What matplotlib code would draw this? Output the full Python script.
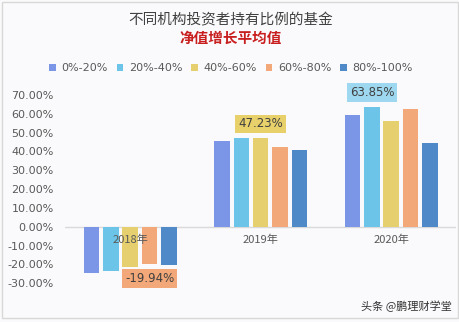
import matplotlib.pyplot as plt
from matplotlib.patches import Patch, Rectangle
import numpy as np

# chart data
years = ['2018年', '2019年', '2020年']
series = ['0%-20%', '20%-40%', '40%-60%', '60%-80%', '80%-100%']
values = [
    [-24.8, 45.6, 59.4],   # 0%-20%
    [-23.4, 47.0, 63.85],  # 20%-40%
    [-21.3, 47.23, 56.4],  # 40%-60%
    [-19.94, 42.2, 62.8],  # 60%-80%
    [-20.5, 40.9, 44.5],   # 80%-100%
]
yticks = [-30, -20, -10, 0, 10, 20, 30, 40, 50, 60, 70]
# (series index, year index, label)
callouts = [(3, 0, '-19.94%'), (2, 1, '47.23%'), (1, 2, '63.85%')]

colors = ['#7B96E6', '#6CC5E8', '#E6CF6E', '#F2A878', '#4F89C8']
callout_fill = ['#7B96E6', '#9ED8F0', '#E8D06A', '#F2A878', '#4F89C8']

plt.rcParams['font.family'] = ['DejaVu Sans', 'Noto Sans CJK SC']
cjk = ['Noto Sans CJK SC', 'DejaVu Sans']

fig = plt.figure(figsize=(4.6, 3.22), dpi=100, facecolor='#FAFAFC')
fig.patches.append(Rectangle((0.004, 0.012), 0.992, 0.982, transform=fig.transFigure,
                             fill=False, edgecolor='#D8D8D8', linewidth=1))

ax = fig.add_axes([0.1413, 0.0739, 0.851, 0.6544])
ax.set_facecolor('none')

x = np.arange(len(years))
step = 0.148
width = 0.119
for i, (name, vals) in enumerate(zip(series, values)):
    ax.bar(x + (i - 2) * step, vals, width, color=colors[i], zorder=2)

ax.axhline(0, color='#D9D9D9', linewidth=1, zorder=1)

for s, yr, label in callouts:
    v = values[s][yr]
    off = 10 if v > 0 else -10
    ax.annotate(label, (x[yr] + (s - 2) * step, v), xytext=(0, off),
                textcoords='offset points', ha='center', va='center',
                fontsize=8.5, color='#404040', zorder=4,
                bbox=dict(boxstyle='square,pad=0.25', facecolor=callout_fill[s],
                          edgecolor='none'))

for xi, yr in zip(x, years):
    ax.text(xi, -4, yr, ha='center', va='top', fontsize=8, color='#595959',
            family=cjk, zorder=3)

ax.set_xlim(-0.5, 2.5)
ax.set_ylim(-38, 74)
ax.set_xticks([])
ax.set_yticks(yticks)
ax.set_yticklabels(['%.2f%%' % t for t in yticks])
ax.tick_params(axis='y', length=0, labelsize=8, labelcolor='#595959', pad=8)
for sp in ax.spines.values():
    sp.set_visible(False)

fig.text(231 / 460, 1 - 20 / 322, '不同机构投资者持有比例的基金', ha='center', va='center',
         fontsize=10.5, color='#404040', family=cjk)
fig.text(231 / 460, 1 - 38 / 322, '净值增长平均值', ha='center', va='center',
         fontsize=10.5, color='#C81E1E', fontweight='bold', family=cjk)

handles = [Patch(facecolor=c, edgecolor='none') for c in colors]
fig.legend(handles, series, loc='center', bbox_to_anchor=(231 / 460, 1 - 68 / 322),
           ncol=5, frameon=False, fontsize=8, handlelength=0.6, handleheight=0.6,
           handletextpad=0.5, columnspacing=0.8, labelcolor='#595959')

fig.text(452 / 460, 1 - 306 / 322, '头条 @鹏理财学堂', ha='right', va='center',
         fontsize=8, color='#333333', family=cjk)

fig.savefig('out.png', dpi=100, facecolor=fig.get_facecolor())
